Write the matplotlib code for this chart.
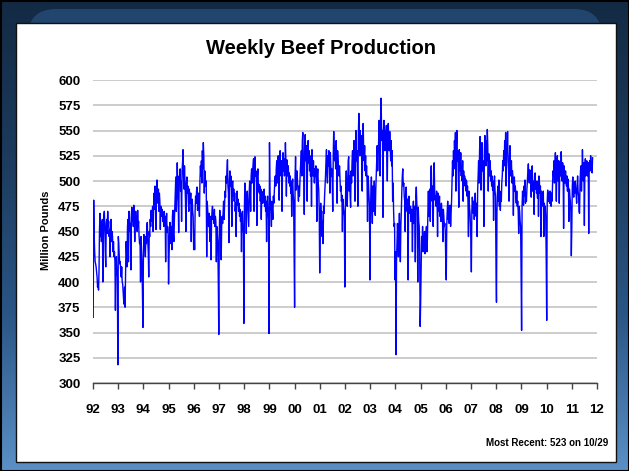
import matplotlib
matplotlib.use('Agg')
import matplotlib.pyplot as plt
import numpy as np
import pandas as pd
from matplotlib.patches import Rectangle, FancyBboxPatch
from matplotlib.colors import LinearSegmentedColormap

plt.rcParams['font.family'] = ['Liberation Sans', 'DejaVu Sans']

# Weekly beef production (million pounds), weeks ending Saturday, from 1992-01-04
y1992 = [365, 481, 447, 430, 420, 418, 415, 410, 405, 395, 400, 392, 410, 452, 468, 445, 460, 440, 455, 462,
         400, 448, 465, 470, 455, 430, 415, 458, 462, 448, 470, 455, 460, 445, 452, 425, 455, 462, 440, 450,
         445, 430, 440, 425, 430, 420, 372, 415, 425, 410, 405, 318]
y1993 = [445, 438, 425, 418, 420, 410, 405, 415, 400, 398, 390, 382, 378, 395, 375, 405, 440, 432, 415, 455,
         462, 420, 470, 464, 450, 458, 412, 466, 474, 460, 470, 455, 476, 468, 440, 462, 470, 458, 465, 450,
         471, 455, 460, 445, 438, 440, 400, 445, 430, 420, 388, 355]
y1994 = [430, 447, 440, 435, 425, 445, 438, 455, 459, 440, 430, 405, 450, 445, 462, 455, 471, 460, 465, 475,
         450, 468, 488, 472, 495, 480, 452, 490, 501, 485, 478, 492, 470, 488, 480, 452, 475, 470, 465, 472,
         460, 468, 455, 470, 462, 465, 420, 458, 468, 449, 455, 452, 398]
y1995 = [425, 445, 459, 450, 438, 455, 432, 465, 471, 448, 440, 460, 475, 490, 504, 470, 485, 518, 495, 480,
         449, 505, 498, 512, 490, 500, 460, 510, 518, 531, 505, 492, 515, 500, 482, 450, 498, 504, 488, 495,
         480, 470, 492, 485, 478, 488, 440, 475, 482, 470, 465, 432]
y1996 = [450, 432, 470, 485, 478, 490, 494, 471, 480, 488, 475, 465, 500, 515, 505, 520, 498, 530, 512, 538,
         525, 488, 510, 505, 495, 500, 425, 480, 471, 462, 455, 468, 450, 440, 465, 422, 460, 470, 475, 462,
         468, 458, 472, 455, 465, 460, 420, 455, 448, 440, 402, 348]
y1997 = [445, 471, 460, 450, 422, 455, 465, 458, 470, 480, 462, 475, 490, 484, 505, 498, 512, 521, 495, 488,
         439, 500, 510, 495, 505, 490, 455, 498, 500, 485, 492, 480, 488, 470, 478, 445, 485, 490, 476, 482,
         470, 478, 465, 472, 460, 468, 430, 462, 470, 455, 448, 359]
y1998 = [470, 498, 480, 475, 448, 485, 490, 478, 465, 455, 488, 500, 492, 470, 505, 512, 498, 508, 515, 522,
         470, 518, 524, 505, 510, 498, 456, 505, 512, 490, 497, 488, 495, 480, 492, 462, 490, 485, 478, 488,
         482, 492, 475, 485, 470, 480, 440, 478, 485, 470, 462, 349]
y1999 = [538, 490, 475, 468, 455, 480, 470, 462, 485, 478, 490, 500, 505, 495, 512, 520, 498, 510, 525, 515,
         481, 518, 530, 512, 505, 520, 470, 515, 528, 510, 522, 505, 515, 538, 520, 485, 521, 510, 505, 515,
         498, 508, 495, 505, 488, 500, 465, 495, 502, 488, 480, 430]
y2000 = [375, 505, 524, 491, 498, 510, 500, 488, 480, 495, 485, 500, 512, 520, 530, 505, 540, 548, 525, 515,
         467, 530, 546, 520, 535, 515, 480, 528, 540, 518, 530, 510, 525, 505, 520, 475, 531, 515, 505, 520,
         510, 498, 512, 505, 515, 500, 460, 505, 512, 498, 491, 470, 409]
y2001 = [450, 478, 465, 470, 445, 460, 438, 475, 468, 484, 495, 505, 520, 531, 510, 498, 525, 515, 530, 520,
         488, 528, 515, 505, 512, 500, 470, 525, 549, 530, 520, 535, 512, 540, 525, 478, 530, 520, 510, 505,
         515, 501, 490, 495, 480, 486, 450, 482, 475, 470, 465, 395]
y2002 = [470, 495, 510, 488, 475, 500, 520, 524, 490, 505, 485, 474, 510, 498, 520, 530, 505, 515, 540, 525,
         480, 535, 550, 520, 530, 510, 475, 545, 567, 540, 525, 550, 530, 545, 520, 490, 540, 557, 530, 520,
         535, 510, 525, 505, 515, 500, 460, 505, 498, 485, 475, 402]
y2003 = [465, 490, 504, 480, 458, 495, 485, 470, 500, 476, 466, 490, 505, 520, 535, 510, 525, 540, 560, 545,
         505, 560, 582, 555, 540, 550, 464, 548, 560, 545, 530, 550, 540, 555, 530, 500, 550, 557, 540, 530,
         549, 535, 520, 540, 515, 530, 480, 498, 470, 455, 458, 402]
y2004 = [430, 328, 420, 440, 458, 445, 425, 450, 468, 440, 420, 455, 470, 490, 505, 512, 495, 498, 485, 480,
         450, 488, 494, 478, 470, 482, 402, 475, 485, 468, 470, 475, 460, 472, 465, 430, 470, 480, 458, 475,
         465, 420, 485, 494, 478, 470, 400, 474, 460, 455, 430, 356]
y2005 = [380, 410, 445, 438, 455, 430, 445, 440, 450, 428, 435, 448, 455, 430, 442, 470, 490, 465, 485, 492,
         460, 505, 515, 488, 480, 495, 455, 500, 518, 490, 481, 485, 475, 490, 480, 445, 488, 478, 470, 485,
         465, 475, 460, 478, 470, 468, 440, 472, 465, 455, 458, 450, 420]
y2006 = [402, 455, 470, 480, 462, 475, 458, 470, 476, 455, 468, 480, 500, 520, 505, 530, 512, 540, 525, 548,
         490, 535, 550, 520, 530, 505, 474, 531, 520, 510, 528, 505, 515, 500, 520, 480, 510, 498, 505, 495,
         502, 490, 500, 485, 495, 480, 445, 490, 475, 470, 458, 443]
y2007 = [410, 470, 484, 475, 468, 480, 462, 475, 488, 470, 465, 478, 445, 490, 505, 520, 498, 530, 544, 515,
         491, 525, 538, 510, 520, 505, 455, 530, 545, 528, 515, 540, 520, 551, 535, 490, 527, 515, 505, 520,
         500, 510, 495, 505, 491, 500, 461, 498, 505, 490, 485, 420]
y2008 = [380, 470, 488, 495, 480, 501, 475, 490, 471, 485, 480, 498, 505, 520, 510, 530, 515, 540, 525, 548,
         495, 535, 530, 549, 520, 510, 480, 525, 535, 505, 515, 520, 498, 510, 505, 466, 500, 504, 490, 495,
         485, 478, 490, 475, 480, 470, 448, 475, 470, 460, 455, 409]
y2009 = [352, 475, 490, 480, 476, 495, 485, 501, 478, 488, 480, 492, 500, 510, 517, 505, 498, 511, 508, 495,
         484, 505, 515, 490, 500, 495, 467, 505, 508, 492, 500, 488, 495, 483, 500, 465, 505, 498, 488, 495,
         445, 490, 485, 480, 475, 490, 445, 478, 470, 475, 465, 422]
y2010 = [362, 478, 491, 485, 480, 488, 478, 490, 483, 475, 488, 480, 495, 510, 505, 520, 498, 515, 528, 505,
         480, 512, 525, 500, 520, 515, 478, 510, 520, 505, 529, 512, 500, 518, 510, 453, 515, 505, 498, 510,
         500, 495, 505, 490, 502, 495, 460, 492, 485, 480, 470, 426]
y2011 = [455, 495, 504, 490, 484, 498, 488, 500, 492, 486, 478, 495, 505, 490, 485, 470, 468, 498, 510, 515,
         490, 505, 531, 512, 500, 518, 456, 510, 522, 505, 515, 520, 512, 505, 518, 448, 515, 520, 510, 525,
         512, 518, 508, 523]

years = [y1992, y1993, y1994, y1995, y1996, y1997, y1998, y1999, y2000, y2001,
         y2002, y2003, y2004, y2005, y2006, y2007, y2008, y2009, y2010, y2011]
values = [v for yr in years for v in yr]
dates = pd.date_range('1992-01-04', periods=len(values), freq='7D')

yticks = list(range(300, 601, 25))
xtick_labels = ['92', '93', '94', '95', '96', '97', '98', '99', '00', '01', '02',
                '03', '04', '05', '06', '07', '08', '09', '10', '11', '12']
title = 'Weekly Beef Production'
ylabel = 'Million Pounds'
note = 'Most Recent: 523 on 10/29'

W, H = 629, 471
fig = plt.figure(figsize=(W / 100, H / 100), dpi=100)

# background
bg = fig.add_axes([0, 0, 1, 1], zorder=0)
bg.set_xlim(0, W)
bg.set_ylim(H, 0)
bg.axis('off')
grad = np.linspace(0, 1, 256).reshape(-1, 1)
cmap = LinearSegmentedColormap.from_list('bg', ['#132a44', '#1c3b5d', '#2a5585', '#5b90c6'])
bg.imshow(grad, extent=[0, W, H, 0], aspect='auto', cmap=cmap, zorder=0)
bg.add_patch(FancyBboxPatch((28, 9), 574, 120, boxstyle='round,pad=0,rounding_size=28',
                            fc='#21456c', ec='none', zorder=1))
bg.add_patch(Rectangle((16, 23), 600, 439, fc='white', ec='#111111', lw=1.0, zorder=2))
bg.add_patch(Rectangle((0.5, 0.5), W - 1, H - 1, fill=False, ec='black', lw=1.5, zorder=3))

ax = fig.add_axes([93 / W, 1 - 383 / H, 504 / W, 303 / H], zorder=2)
ax.set_facecolor('none')
ax.plot(dates, values, color='#0000ff', lw=1.0, zorder=3)

ax.set_ylim(300, 600)
ax.set_yticks(yticks)
ax.set_yticklabels([str(t) for t in yticks])
xt = pd.date_range('1992-01-01', '2012-01-01', freq='YS')
ax.set_xlim(xt[0], xt[-1])
ax.set_xticks(xt)
ax.set_xticklabels(xtick_labels)

ax.grid(axis='y', color='#c4c4c4', lw=1.2, zorder=1)
ax.grid(axis='x', visible=False)
for s in ['top', 'right', 'left']:
    ax.spines[s].set_visible(False)
ax.spines['bottom'].set_color('#444444')
ax.spines['bottom'].set_linewidth(1.0)
ax.tick_params(axis='y', length=0, pad=9, labelsize=9.5)
ax.tick_params(axis='x', direction='out', length=4, width=1, color='#444444', pad=11, labelsize=9.5)
for lab in ax.get_xticklabels() + ax.get_yticklabels():
    lab.set_fontweight('bold')

fig.text(0.51, 1 - 49 / H, title, ha='center', va='center', fontsize=14.5, fontweight='bold')
fig.text(46 / W, 1 - 230 / H, ylabel, rotation=90, ha='center', va='center', fontsize=8, fontweight='bold')
fig.text(608 / W, 1 - 443 / H, note, ha='right', va='center', fontsize=7, fontweight='bold')

fig.savefig('out.png', dpi=100)
